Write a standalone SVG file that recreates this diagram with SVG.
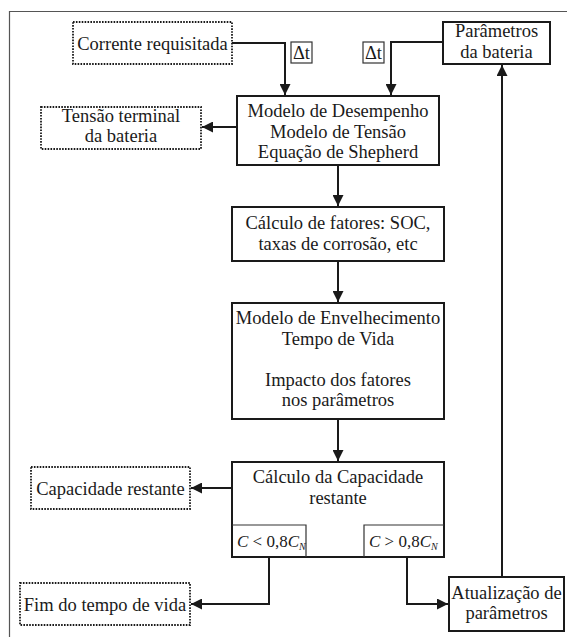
<svg xmlns="http://www.w3.org/2000/svg" width="567" height="637" viewBox="0 0 567 637">
<defs>
<marker id="ah" viewBox="0 0 10 10" refX="10" refY="5" markerWidth="5.5" markerHeight="5.5" orient="auto" markerUnits="strokeWidth">
<path d="M0,0 L10,5 L0,10 z" fill="#1a1a1a"/>
</marker>
<style>
text{font-family:"Liberation Serif","Times New Roman",serif;font-size:18.5px;fill:#1a1a1a;text-anchor:middle}
.box{fill:#fff;stroke:#1a1a1a;stroke-width:2}
.dot{fill:#fff;stroke:#1a1a1a;stroke-width:1.8;stroke-dasharray:1.6 1.3}
.con{fill:none;stroke:#1a1a1a;stroke-width:2;marker-end:url(#ah)}
.thin{fill:none;stroke:#333;stroke-width:1.2}
.sm{font-size:17px;text-anchor:start}
</style>
</defs>
<rect width="567" height="637" fill="#fff"/>
<path d="M9.5,640 V11.5 H570" fill="none" stroke="#555" stroke-width="1.2"/>

<g id="connectors">
<path class="con" d="M232,43 H285 V95"/>
<path class="con" d="M443,42 H391 V95"/>
<path class="con" d="M237,127 H202"/>
<path class="con" d="M338,165 V206"/>
<path class="con" d="M338,261 V302"/>
<path class="con" d="M338,419 V461"/>
<path class="con" d="M232,488 H191"/>
<path class="con" d="M269,557 V604 H191"/>
<path class="con" d="M407,557 V604 H448"/>
<path class="con" d="M502,577 V65"/>
</g>

<g id="corrente">
<rect class="dot" x="73" y="22" width="159" height="42"/>
<text x="152.5" y="49.5">Corrente requisitada</text>
</g>
<g id="dt1">
<rect class="thin" x="291" y="42" width="21" height="21" fill="#fff"/>
<text x="301.5" y="59">Δt</text>
</g>
<g id="dt2">
<rect class="thin" x="363" y="42" width="21" height="21" fill="#fff"/>
<text x="373.5" y="59">Δt</text>
</g>
<g id="parametros">
<rect class="box" x="443" y="22" width="107" height="42"/>
<text x="496.5" y="37">Parâmetros</text>
<text x="496.5" y="57.5">da bateria</text>
</g>
<g id="tensao">
<rect class="dot" x="41" y="107" width="160" height="42"/>
<text x="121" y="121.5">Tensão terminal</text>
<text x="121" y="142">da bateria</text>
</g>
<g id="desempenho">
<rect class="box" x="237" y="96" width="202" height="69"/>
<text x="338" y="117">Modelo de Desempenho</text>
<text x="338" y="137.5">Modelo de Tensão</text>
<text x="338" y="158">Equação de Shepherd</text>
</g>
<g id="fatores">
<rect class="box" x="232" y="207" width="212" height="54"/>
<text x="338" y="229">Cálculo de fatores: SOC,</text>
<text x="338" y="249.5">taxas de corrosão, etc</text>
</g>
<g id="envelhecimento">
<rect class="box" x="232" y="303" width="212" height="116"/>
<text x="338" y="324">Modelo de Envelhecimento</text>
<text x="338" y="344.5">Tempo de Vida</text>
<text x="338" y="385.5">Impacto dos fatores</text>
<text x="338" y="406">nos parâmetros</text>
</g>
<g id="capacidade">
<rect class="box" x="232" y="462" width="212" height="95"/>
<text x="338" y="483">Cálculo da Capacidade</text>
<text x="338" y="503.5">restante</text>
<path class="thin" d="M232,525 H306 V557 M444,525 H364 V557"/>
<text class="sm" x="237" y="547"><tspan font-style="italic">C</tspan> &lt; 0,8<tspan font-style="italic">C</tspan><tspan font-style="italic" font-size="10" dy="3">N</tspan></text>
<text class="sm" x="369" y="547"><tspan font-style="italic">C</tspan> &gt; 0,8<tspan font-style="italic">C</tspan><tspan font-style="italic" font-size="10" dy="3">N</tspan></text>
</g>
<g id="restante">
<rect class="dot" x="31" y="467" width="159" height="42"/>
<text x="110.5" y="495">Capacidade restante</text>
</g>
<g id="fim">
<rect class="dot" x="20" y="583" width="170" height="42"/>
<text x="105" y="610.5">Fim do tempo de vida</text>
</g>
<g id="atualizacao">
<rect class="box" x="449" y="577" width="115" height="54"/>
<text x="506.5" y="598.5">Atualização de</text>
<text x="506.5" y="619">parâmetros</text>
</g>
</svg>
